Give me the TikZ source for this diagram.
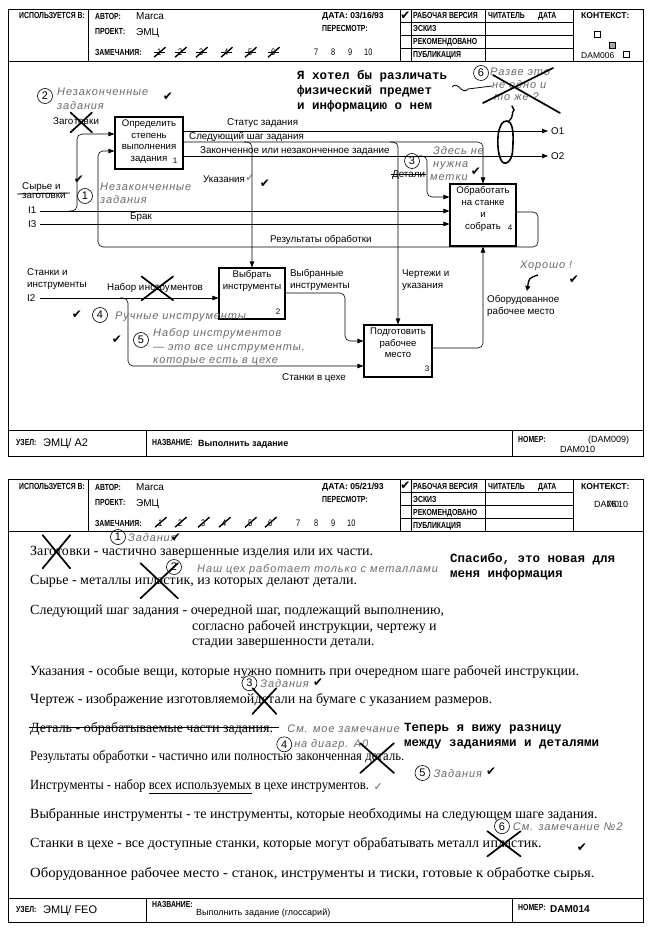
\documentclass[tikz,border=0pt]{standalone}
\usepackage{fontspec}
\setmainfont{Liberation Serif}
\newfontfamily\hdr[FakeStretch=0.78]{Liberation Sans}
\newfontfamily\dsf{Liberation Sans}
\newfontfamily\hwf[LetterSpace=8]{Liberation Sans}
\newfontfamily\twf{Liberation Mono}
\newfontfamily\djf{DejaVu Sans}
\newfontfamily\glf{Liberation Serif}
\usetikzlibrary{arrows.meta}
\definecolor{hwgray}{gray}{0.42}
\newcommand\xo[3]{\draw[xs] ([xshift=-#2pt,yshift=-#3pt]#1.south west) -- ([xshift=#2pt,yshift=#3pt]#1.north east); \draw[xs] ([xshift=-#2pt,yshift=#3pt]#1.north west) -- ([xshift=#2pt,yshift=-#3pt]#1.south east);}
\newcommand\formhead[2]{%
\draw[frm] (88,9) -- (88,61);
\draw[frm] (400,9) -- (400,61) (411,9) -- (411,61) (485,9) -- (485,61) (573,9) -- (573,61);
\draw[frm] (400,22) -- (573,22) (400,35) -- (573,35) (400,48) -- (573,48);
\node[hd] (usd#1) at (19,19) {ИСПОЛЬЗУЕТСЯ В:};
\node[hd] (aut#1) at (95,20) {АВТОР:};
\node[val] (autv#1) at (136,20) {Marca};
\node[hd] (prj#1) at (95,35) {ПРОЕКТ:};
\node[val] (prjv#1) at (136,36) {ЭМЦ};
\node[hd] (rem#1) at (95,56) {ЗАМЕЧАНИЯ:};
\node[hdw] (dat#1) at (322,19) {ДАТА: #2};
\node[hd] (rev#1) at (322,32) {ПЕРЕСМОТР:};
\node[ck] (ckw#1) at (405.5,15.5) {✔};
\node[hd] (wrk#1) at (413,19) {РАБОЧАЯ ВЕРСИЯ};
\node[hd] (drf#1) at (413,32) {ЭСКИЗ};
\node[hd] (rec#1) at (413,45) {РЕКОМЕНДОВАНО};
\node[hd] (pub#1) at (413,58) {ПУБЛИКАЦИЯ};
\node[hd] (rdr#1) at (488,19) {ЧИТАТЕЛЬ};
\node[hd] (rdt#1) at (538,19) {ДАТА};
\node[hdw] (ctx#1) at (581,19) {КОНТЕКСТ:};
}
\begin{document}
\begin{tikzpicture}[x=1pt,y=-1pt,
 frm/.style={line width=0.9pt},
 hd/.style={font=\hdr\bfseries\fontsize{8.8}{9}\selectfont, inner sep=0, anchor=base west},
 hdw/.style={font=\dsf\bfseries\fontsize{8.6}{9}\selectfont, inner sep=0, anchor=base west},
 val/.style={font=\dsf\fontsize{10}{11}\selectfont, inner sep=0, anchor=base west},
 rn/.style={font=\hdr\fontsize{9.5}{10}\selectfont, inner sep=0, anchor=base west},
 lbl/.style={font=\dsf\fontsize{9.8}{11}\selectfont, inner sep=0, anchor=base west},
 fbox/.style={draw, line width=1.1pt, inner sep=0},
 btxt/.style={font=\dsf\fontsize{9.6}{11.8}\selectfont, align=center, inner sep=0, anchor=north},
 bnum/.style={font=\dsf\fontsize{8}{9}\selectfont, inner sep=0},
 arr/.style={line width=0.6pt, rounded corners=5pt, -{Triangle[length=6pt,width=4.5pt]}},
 hw/.style={font=\hwf\itshape\fontsize{11}{13}\selectfont, text=hwgray, inner sep=0, anchor=base west},
 cnum/.style={circle, draw, line width=0.6pt, minimum size=15pt, inner sep=0, font=\hwf\fontsize{11}{11}\selectfont},
 tw/.style={font=\twf\bfseries\fontsize{12.5}{15}\selectfont, inner sep=0, anchor=base west},
 gl/.style={font=\glf\fontsize{14}{16}\selectfont, inner sep=0, anchor=base west},
 ck/.style={font=\djf\fontsize{12}{12}\selectfont, inner sep=0},
 lck/.style={font=\djf\fontsize{11}{11}\selectfont, inner sep=0, text=hwgray},
 xs/.style={line width=1.7pt, line cap=round}]
\useasboundingbox (0,0) rectangle (653,933);
\fill[white] (0,0) rectangle (653,933);

% ================= FORM 1 =================
\draw[frm] (8,9) rectangle (643,456);
\draw[frm] (8,61) -- (643,61);
\draw[frm] (8,430) -- (643,430) (146,430) -- (146,456) (512,430) -- (512,456);
\formhead{a}{03/16/93}
\foreach \d/\xx in {1/157,2/178,3/199,4/224,5/248,6/271}{
  \node[rn] (ar\d) at (\xx,56) {\d};
  \draw[line width=1.4pt] ([xshift=-3pt,yshift=-1pt]ar\d.south west) -- ([xshift=4pt,yshift=2pt]ar\d.north east);
  \draw[line width=0.7pt] ([xshift=-3pt]ar\d.west) -- ([xshift=3pt]ar\d.east);}
\node[rn] (ar7) at (314,56) {7};
\node[rn] (ar8) at (331,56) {8};
\node[rn] (ar9) at (348,56) {9};
\node[rn] (ar10) at (364,56) {10};
\draw[line width=0.6pt] (594,31) rectangle (600,37);
\fill[gray!70] (609,42) rectangle (615,48);
\draw[line width=0.6pt] (609,42) rectangle (615,48);
\draw[line width=0.6pt] (623,51) rectangle (629,57);
\node[val, font=\dsf\fontsize{8.5}{9}\selectfont] (ctxa) at (581,59) {DAM006};

% boxes
\node[fbox, minimum width=68, minimum height=52] (b1) at (149,143) {};
\node[btxt] (b1t) at ([yshift=-3pt]b1.north) {Определить\\степень\\выполнения\\задания};
\node[bnum] (b1n) at (175,161) {1};
\node[fbox, minimum width=66, minimum height=51] (b2) at (252,293.5) {};
\node[btxt] (b2t) at ([yshift=-3pt]b2.north) {Выбрать\\инструменты};
\node[bnum] (b2n) at (278,312) {2};
\node[fbox, minimum width=68, minimum height=52] (b3) at (398,351) {};
\node[btxt] (b3t) at ([yshift=-3pt]b3.north) {Подготовить\\рабочее\\место};
\node[bnum] (b3n) at (427,369) {3};
\node[fbox, minimum width=66, minimum height=62] (b4) at (483,215) {};
\node[btxt] (b4t) at ([yshift=-3pt]b4.north) {Обработать\\на станке\\и\\собрать};
\node[bnum] (b4n) at (510,228) {4};

% connectors
\coordinate (o1) at (548,131);
\coordinate (o2) at (548,156);
\coordinate (i1) at (40,211);
\coordinate (i3) at (40,224);
\coordinate (i2) at (40,298);
\draw[arr] (b1.east |- o1) -- (o1);
\draw[arr] (b1.east |- o2) -- (o2);
\draw[arr] (b1.east |- 0,142) -- (483,142) -- (b4.north);
\draw[arr] (244,142) -- (252,142) -- (b2.north);
\draw[arr] (390,142) -- (398,142) -- (b3.north);
\draw[arr] (419,156) -- (427,156) -- (427,197) -- (b4.west |- 0,197);
\draw[arr] (i1) -- (b4.west |- i1);
\draw[arr] (69,211) -- (77,211) -- (77,134) -- (b1.west |- 0,134);
\draw[arr] (i3) -- (b4.west |- i3);
\draw[arr] (b4.east |- 0,212) -- (538,212) -- (538,247) -- (98,247) -- (98,151) -- (b1.west |- 0,151);
\draw[arr] (i2) -- (b2.west |- i2);
\draw[arr] (120,298) -- (128,298) -- (128,366) -- (b3.west |- 0,366);
\draw[arr] (b2.east |- 0,293) -- (345,293) -- (345,341) -- (b3.west |- 0,341);
\draw[arr] (b3.east |- 0,348) -- (483,348) -- (b4.south);

% labels
\node[lbl] (lo1) at (551,134.5) {O1};
\node[lbl] (lo2) at (551,159.5) {O2};
\node[lbl] (l1) at (227,126) {Статус задания};
\node[lbl] (l2) at (189,140) {Следующий шаг задания};
\node[lbl] (l3) at (200,153.5) {Законченное или незаконченное задание};
\node[lbl] (l4) at (203,183) {Указания};
\node[lbl] (l5) at (130,220) {Брак};
\node[lbl] (l6) at (270,243) {Результаты обработки};
\node[lbl] (l7) at (22,190) {Сырье и};
\node[lbl] (l8) at (22,199) {заготовки};
\draw[line width=0.9pt] (17,194) -- (70,193);
\node[lbl] (li1) at (28,214) {I1};
\node[lbl] (li3) at (28,227) {I3};
\node[lbl] (l9) at (27,275) {Станки и};
\node[lbl] (l10) at (27,287) {инструменты};
\node[lbl] (li2) at (27,301) {I2};
\node[lbl] (nb1) at (107,290) {Набор и};
\node[lbl] (nb2) at (nb1.base east) {нстру};
\node[lbl] (nb3) at (nb2.base east) {ментов};
\xo{nb2}{3}{8}
\node[lbl] (l11) at (290,276) {Выбранные};
\node[lbl] (l12) at (290,288) {инструменты};
\node[lbl] (l13) at (402,276) {Чертежи и};
\node[lbl] (l14) at (402,288) {указания};
\node[lbl] (l15) at (487,302) {Оборудованное};
\node[lbl] (l16) at (487,314) {рабочее место};
\node[lbl] (l17) at (282,380) {Станки в цехе};

% annotations form 1
\node[cnum] (c2) at (45,96) {2};
\node[hw] (h2a) at (57,96) {Незаконченные};
\node[hw] (h2b) at (57,110) {задания};
\node[ck] (k1) at (168,97) {✔};
\node[lbl] (zg1) at (53,125) {Заго};
\node[lbl] (zg2) at (zg1.base east) {тов};
\node[lbl] (zg3) at (zg2.base east) {ки};
\xo{zg2}{3}{7}
\node[ck] (k2) at (79,180) {✔};
\node[cnum] (c1) at (85,196) {1};
\node[hw] (h1a) at (100,191) {Незаконченные};
\node[hw] (h1b) at (100,204) {задания};
\node[lck] (k3) at (250,178) {✓};
\node[ck] (k4) at (265,184) {✔};
\node[tw] (t1) at (297,80) {Я хотел бы различать};
\node[tw] (t2) at (297,95) {физический предмет};
\node[tw] (t3) at (297,110) {и информацию о нем};
\draw[line width=0.8pt] (452,87) .. controls (458,80) and (462,96) .. (468,89) -- (492,86);
\node[cnum] (c6) at (481,73) {6};
\node[hw] (h6a) at (490,76) {Разве это};
\node[hw] (h6b) at (492,89) {не одно и};
\node[hw] (h6c) at (494,101) {то же ?};
\draw[xs] (483,103) -- (553,68);
\draw[xs] (493,75) -- (560,113);
\draw[line width=1.6pt] plot[smooth cycle, tension=0.7] coordinates {(507,121) (512,127) (513,143) (511,158) (504,163) (499,154) (498,137) (501,125)};
\draw[line width=1.4pt, line cap=round] (509,121) .. controls (514,117) and (511,113) .. (514,110) -- (512,106);
\node[cnum] (c3) at (412,161) {3};
\node[lbl] (dt) at (392,178) {Детали};
\draw[line width=0.9pt] ([xshift=-1pt,yshift=1pt]dt.west) -- ([xshift=1pt,yshift=1pt]dt.east);
\node[hw] (h3a) at (433,155) {Здесь не};
\node[hw] (h3b) at (433,168) {нужна};
\node[hw] (h3c) at (430,181) {метки};
\node[ck] (k5) at (476,172) {✔};
\node[hw] (hg) at (520,268) {Хорошо !};
\draw[line width=1.3pt, -{Triangle[length=5pt,width=5pt]}] (538,275) .. controls (529,278) .. (527,291);
\node[ck] (k6) at (574,280) {✔};
\node[cnum] (c4) at (100,315) {4};
\node[hw] (h4) at (115,319) {Ручные инструменты};
\node[ck] (k7) at (77,315) {✔};
\node[cnum] (c5) at (141,340) {5};
\node[hw] (h5a) at (153,336) {Набор инструментов};
\node[hw] (h5b) at (153,350) {— это все инструменты,};
\node[hw] (h5c) at (153,363) {которые есть в цехе};
\node[ck] (k8) at (117,340) {✔};

% bottom strip form 1
\node[hd] (nd1) at (16,445) {УЗЕЛ:};
\node[val, font=\dsf\fontsize{11}{12}\selectfont] (nd1v) at (43,446) {ЭМЦ/ А2};
\node[hd] (nm1) at (152,445) {НАЗВАНИЕ:};
\node[val, font=\dsf\bfseries\fontsize{9}{10}\selectfont] (nm1v) at (198,446) {Выполнить задание};
\node[hd] (no1) at (518,442) {НОМЕР:};
\node[val, font=\dsf\fontsize{9}{10}\selectfont] (no1a) at (588,442) {(DAM009)};
\node[val, font=\dsf\fontsize{9}{10}\selectfont] (no1b) at (560,452) {DAM010};

% ================= FORM 2 =================
\draw[frm] (8,479) rectangle (643,922);
\draw[frm] (8,531) -- (643,531);
\draw[frm] (8,898) -- (643,898) (146,898) -- (146,922) (512,898) -- (512,922);
\begin{scope}[yshift=-470pt]
\formhead{b}{05/21/93}
\foreach \d/\xx in {1/158,2/178,3/201,4/222,5/248,6/268}{
  \node[rn] (br\d) at (\xx,56) {\d};
  \draw[line width=1.4pt] ([xshift=-3pt,yshift=-1pt]br\d.south west) -- ([xshift=4pt,yshift=2pt]br\d.north east);}
\node[rn] (br7) at (296,56) {7};
\node[rn] (br8) at (314,56) {8};
\node[rn] (br9) at (331,56) {9};
\node[rn] (br10) at (347,56) {10};
\node[val, font=\dsf\fontsize{9}{10}\selectfont] (ctxb) at (594,37) {DA\rlap{M0}76\,10};
\end{scope}

% glossary
\node[cnum] (gc1) at (118,537) {1};
\node[hw] (gh1) at (128,541) {Задания};
\node[ck] (gk1) at (176,538) {✔};
\node[gl] (g1a) at (30,555) {За};
\node[gl] (g1b) at (g1a.base east) {гото};
\node[gl] (g1c) at (g1b.base east) {вки - частично завершенные изделия или их части.};
\xo{g1b}{1}{13}
\node[cnum] (gc2) at (174,567) {2};
\node[hw] (gh2) at (197,572) {Наш цех работает только с металлами};
\node[tw] (gt1) at (450,562) {Спасибо, это новая для};
\node[tw] (gt2) at (450,577) {меня информация};
\node[gl] (g2a) at (30,584) {Сырье - металлы и\ };
\node[gl] (g2b) at (g2a.base east) {пласт};
\node[gl] (g2c) at (g2b.base east) {ик, из которых делают детали.};
\xo{g2b}{2}{14}
\node[gl] (g3a) at (30,614) {Следующий шаг задания - очередной шаг, подлежащий выполнению,};
\node[gl] (g3b) at (192,630) {согласно рабочей инструкции, чертежу и};
\node[gl] (g3c) at (192,645) {стадии завершенности детали.};
\node[gl] (g4) at (30,675) {Указания - особые вещи, которые нужно помнить при очередном шаге рабочей инструкции.};
\node[gl] (g5a) at (30,703) {Чертеж - изображение изготовляемой\ };
\node[gl] (g5b) at (g5a.base east) {дет};
\node[gl] (g5c) at (g5b.base east) {али на бумаге с указанием размеров.};
\xo{g5b}{2}{8}
\node[cnum] (gc3) at ([xshift=-5pt,yshift=13pt]g5b.north west) {3};
\node[hw] (gh3) at ([xshift=3pt,yshift=-4pt]gc3.east) {Задания};
\node[ck] (gk3) at ([xshift=9pt,yshift=1pt]gh3.east) {✔};
\node[gl] (g6) at (30,732) {Деталь - обрабатываемые части задания.};
\draw[line width=1pt] ([xshift=-1pt,yshift=1pt]g6.west) -- ([xshift=6pt,yshift=1pt]g6.east);
\node[hw] (gh4a) at ([xshift=14pt]g6.base east) {См. мое замечание};
\node[cnum] (gc4) at ([xshift=-3pt,yshift=-12pt]gh4a.south west) {4};
\node[hw] (gh4b) at ([xshift=2pt,yshift=-3.5pt]gc4.east) {на диагр. А0};
\node[tw] (gt3) at (404,731) {Теперь я вижу разницу};
\node[tw] (gt4) at (404,746) {между заданиями и деталями};
\node[gl] (g7a) at (30,760) {\scalebox{0.9}[1]{Результаты обработки - частично или полностью законченная\ }};
\node[gl] (g7b) at (g7a.base east) {\scalebox{0.9}[1]{дета}};
\node[gl] (g7c) at (g7b.base east) {\scalebox{0.9}[1]{ль.}};
\xo{g7b}{5}{10}
\node[cnum] (gc5) at ([xshift=18pt,yshift=-13pt]g7c.base east) {5};
\node[hw] (gh5) at ([xshift=3pt,yshift=-4pt]gc5.east) {Задания};
\node[ck] (gk5) at ([xshift=9pt,yshift=1pt]gh5.east) {✔};
\node[gl] (g8) at (30,789) {\scalebox{0.9}[1]{Инструменты - набор \underline{всех используемых} в цехе инструментов.}};
\node[lck] (gk6) at ([xshift=9pt,yshift=-1pt]g8.east) {✓};
\node[gl] (g9) at (30,818) {Выбранные инструменты - те инструменты, которые необходимы на следующем шаге задания.};
\node[gl] (g10a) at (30,847) {Станки в цехе - все доступные станки, которые могут обрабатывать металл и\ };
\node[gl] (g10b) at (g10a.base east) {плас};
\node[gl] (g10c) at (g10b.base east) {тик.};
\xo{g10b}{3}{9}
\begin{scope}
\clip (8,479) rectangle (643,922);
\node[cnum] (gc6) at ([xshift=-2pt,yshift=14pt]g10b.north) {6};
\node[hw] (gh6) at ([xshift=3pt,yshift=-4pt]gc6.east) {См. замечание №2};
\end{scope}
\node[ck] (gk7) at ([xshift=40pt,yshift=-4pt]g10c.east) {✔};
\node[gl] (g11) at (30,877) {\scalebox{1.05}[1]{Оборудованное рабочее место - станок, инструменты и тиски, готовые к обработке сырья.}};

% bottom strip form 2
\node[hd] (nd2) at (16,912) {УЗЕЛ:};
\node[val, font=\dsf\fontsize{11}{12}\selectfont] (nd2v) at (43,913) {ЭМЦ/ FEO};
\node[hd] (nm2) at (152,907) {НАЗВАНИЕ:};
\node[val, font=\dsf\fontsize{9}{10}\selectfont] (nm2v) at (196,915) {Выполнить задание (глоссарий)};
\node[hd] (no2) at (518,910) {НОМЕР:};
\node[val, font=\dsf\bfseries\fontsize{10}{11}\selectfont] (no2v) at (550,912) {DAM014};
\end{tikzpicture}
\end{document}
